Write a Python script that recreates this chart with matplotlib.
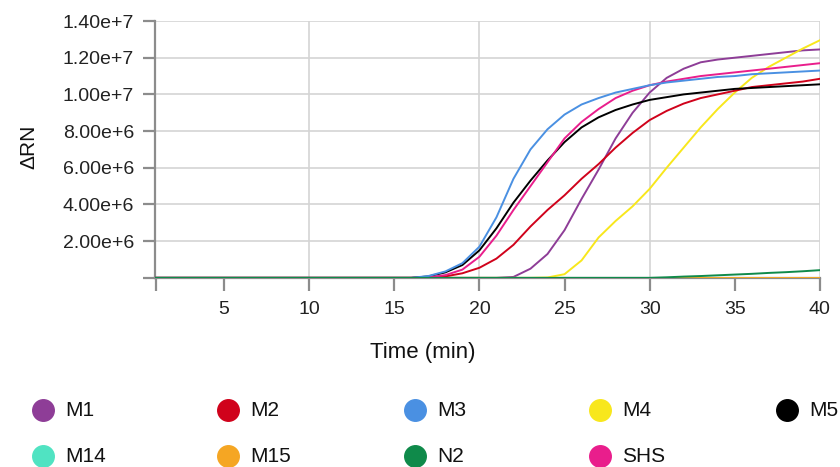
import numpy as np
import matplotlib.pyplot as plt
from matplotlib.lines import Line2D
from matplotlib.ticker import FuncFormatter

plt.rcParams['font.family'] = ['Liberation Sans', 'DejaVu Sans']

# ---------------- data (1-min steps) ----------------
time = np.arange(1, 41)

# values in units of 1e6, from minute 16 onward (earlier minutes are 0)
m1  = [0, 0, 0, 0, 0, 0, 0.05, 0.5, 1.3, 2.6, 4.3, 5.9, 7.6, 9.0, 10.1, 10.9,
       11.4, 11.75, 11.9, 12.0, 12.1, 12.2, 12.3, 12.4, 12.45]
m2  = [0, 0.02, 0.08, 0.25, 0.55, 1.05, 1.8, 2.8, 3.7, 4.5, 5.4, 6.2, 7.1, 7.9,
       8.6, 9.1, 9.5, 9.8, 10.0, 10.2, 10.4, 10.5, 10.6, 10.7, 10.85]
m3  = [0, 0.1, 0.35, 0.8, 1.7, 3.3, 5.4, 7.0, 8.1, 8.9, 9.45, 9.8, 10.1, 10.3,
       10.5, 10.65, 10.75, 10.85, 10.95, 11.0, 11.1, 11.15, 11.2, 11.25, 11.3]
m4  = [0, 0, 0, 0, 0, 0, 0, 0, 0.02, 0.2, 0.95, 2.2, 3.1, 3.9, 4.85, 6.0, 7.1,
       8.2, 9.2, 10.1, 10.9, 11.5, 12.0, 12.5, 12.95]
m5  = [0, 0.08, 0.3, 0.7, 1.5, 2.7, 4.1, 5.3, 6.4, 7.4, 8.2, 8.75, 9.15, 9.45,
       9.7, 9.85, 10.0, 10.1, 10.2, 10.3, 10.35, 10.4, 10.45, 10.5, 10.55]
m14 = [0] * 25
m15 = [0] * 25
n2  = [0, 0, 0, 0, 0, 0, 0, 0, 0, 0, 0, 0, 0, 0, 0, 0.03, 0.07, 0.1, 0.14,
       0.18, 0.22, 0.27, 0.31, 0.36, 0.42]
shs = [0, 0.03, 0.15, 0.45, 1.15, 2.3, 3.7, 5.0, 6.3, 7.6, 8.5, 9.2, 9.8, 10.2,
       10.5, 10.7, 10.85, 11.0, 11.1, 11.2, 11.3, 11.4, 11.5, 11.6, 11.7]

labels = ["M1", "M2", "M3", "M4", "M5", "M14", "M15", "N2", "SHS"]
series = [m1, m2, m3, m4, m5, m14, m15, n2, shs]
colors = ["#8e3d97", "#d0021b", "#4a90e2", "#f8e71c", "#000000",
          "#50e3c2", "#f5a623", "#0f8a4a", "#e91e8c"]

y_ticks = np.arange(0, 1.41e7, 2e6)
x_ticks = [1, 5, 10, 15, 20, 25, 30, 35, 40]


def full(vals):
    # pad the leading zero minutes (1..15)
    return np.concatenate([np.zeros(15), np.array(vals)]) * 1e6


def sci(v, pos):
    if v == 0:
        return ""
    m, e = f"{v:.2e}".split("e")
    return f"{m}e+{int(e)}"


# ---------------- figure ----------------
fig = plt.figure(figsize=(8.4, 4.67), dpi=100)
ax = fig.add_axes([0.1845, 0.405, 0.7915, 0.55])

draw_order = [5, 6, 0, 3, 1, 4, 8, 2, 7]
for i in draw_order:
    ax.plot(time, full(series[i]), color=colors[i], lw=1.4, zorder=3)

ax.set_xlim(0.94, 40)
ax.set_ylim(0, 1.4e7)

ax.set_xticks(x_ticks)
ax.set_xticklabels(["" if t == 1 else str(t) for t in x_ticks])
ax.set_yticks(y_ticks)
ax.yaxis.set_major_formatter(FuncFormatter(sci))

for x in [10, 20, 30, 40]:
    ax.axvline(x, color="#d4d4d4", lw=1.2, zorder=1)
for y in y_ticks[1:]:
    ax.axhline(y, color="#d4d4d4", lw=1.2, zorder=1)

for s in ["top", "right"]:
    ax.spines[s].set_visible(False)
for s in ["left", "bottom"]:
    ax.spines[s].set_color("#8c8c8c")
    ax.spines[s].set_linewidth(1.6)
    ax.spines[s].set_zorder(2)

ax.tick_params(axis="both", colors="#8c8c8c", width=1.6, length=9,
               labelcolor="#222222", labelsize=14)
ax.tick_params(axis="x", pad=8)
ax.tick_params(axis="y", pad=6)

fig.text(0.503, 0.245, "Time (min)", ha="center", va="center", fontsize=16,
         color="#111111")
fig.text(0.034, 0.685, "ΔRN", ha="center", va="center", rotation=90,
         fontsize=15, color="#111111")

# ---------------- legend ----------------
col_x = [43, 228, 415, 600, 787]
row_y = [410, 456]
for k, (lab, col) in enumerate(zip(labels, colors)):
    r, c = divmod(k, 5)
    mx = col_x[c] / 840
    my = 1 - row_y[r] / 467
    fig.add_artist(Line2D([mx], [my], marker="o", markersize=15.5, color=col,
                          transform=fig.transFigure, lw=0))
    fig.text(mx + 22 / 840, my, lab, ha="left", va="center", fontsize=15,
             color="#111111")

fig.savefig("out.png", dpi=100)
